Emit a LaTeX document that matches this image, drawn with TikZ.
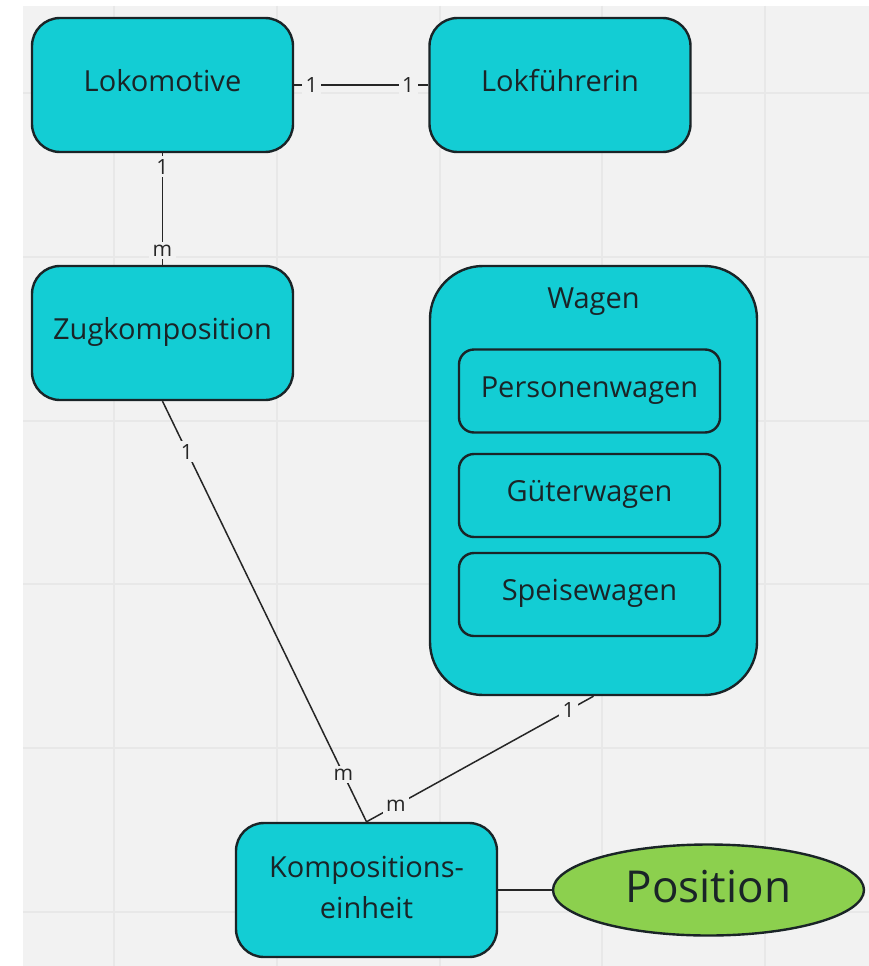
\documentclass[tikz,border=0pt]{standalone}
\usepackage{fontspec}
\setmainfont{Open Sans}
\usetikzlibrary{shapes.geometric}
\definecolor{canvas}{HTML}{F2F2F2}
\definecolor{gridline}{HTML}{E8E8E8}
\definecolor{boxfill}{HTML}{13CDD4}
\definecolor{attrfill}{HTML}{8CD04E}
\definecolor{ink}{HTML}{1A2427}
\definecolor{wire}{HTML}{262626}

\begin{document}
\begin{tikzpicture}[x=1pt,y=-1pt,
  entity/.style={rectangle, rounded corners=28pt, draw=ink, line width=2.4pt,
    fill=boxfill, minimum width=261pt, minimum height=134pt, inner sep=0pt,
    text=ink, font=\fontsize{29}{41}\selectfont, align=center,
    text height=20pt, text depth=8pt},
  subentity/.style={entity, rounded corners=15pt, minimum height=83pt},
  group/.style={entity, rounded corners=53pt, minimum width=327pt, minimum height=429pt},
  attribute/.style={ellipse, draw=ink, line width=2.4pt, fill=attrfill,
    minimum width=311pt, minimum height=91pt, inner sep=0pt, text=ink,
    font=\fontsize{44}{50}\selectfont, text height=32pt, text depth=8pt},
  wireline/.style={draw=wire, line width=1.5pt},
  card/.style={fill=canvas, inner xsep=3.5pt, inner ysep=3pt, text=wire,
    font=\fontsize{21}{24}\selectfont},
  gridstroke/.style={draw=gridline, line width=1.3pt}
]
  % page and canvas
  \useasboundingbox (0,0) rectangle (869,966);
  \fill[white] (0,0) rectangle (869,966);
  \fill[canvas] (23,6) rectangle (869,966);

  % background grid
  \begin{scope}
    \clip (23,6) rectangle (869,966);
    \foreach \gx in {114,277,440,602,765}
      \draw[gridstroke] (\gx,6) -- (\gx,966);
    \foreach \gy in {93,257,421,584,748,912}
      \draw[gridstroke] (23,\gy) -- (869,\gy);
  \end{scope}

  % entities
  \node[entity] (lok)  at (162.5,85)  {Lokomotive};
  \node[entity] (lokf) at (560,85)    {Lokführerin};
  \node[entity] (zug)  at (162.5,333) {Zugkomposition};

  \node[group]  (wagen) at (593.5,480.5) {};
  \node[text=ink, font=\fontsize{29}{41}\selectfont, anchor=base] (wagentitle)
    at (593.5,308) {Wagen};
  \node[subentity] (pw) at (589.5,391)   {Personenwagen};
  \node[subentity] (gw) at (589.5,495.5) {Güterwagen};
  \node[subentity] (sw) at (589.5,594.5) {Speisewagen};

  \node[entity, text height=62pt, text depth=6pt] (ke) at (366.5,890)
    {Kompositions-\\einheit};
  \node[attribute] (pos) at (708.5,890) {Position};

  % relationships with cardinalities
  \draw[wireline] (lok.east) -- (lokf.west)
    node[card, pos=0.13] {1} node[card, pos=0.85] {1};
  \draw[wireline] (lok.south) -- (zug.north)
    node[card, pos=0.12] {1} node[card, pos=0.87] {m};
  \draw[wireline] (zug.south) -- (ke.north)
    node[card, pos=0.12] {1} node[card, pos=0.887] {m};
  \draw[wireline] (wagen.south) -- (ke.north)
    node[card, pos=0.11] {1} node[card, pos=0.87] {m};
  \draw[wireline] (ke.east) -- (pos.west);
\end{tikzpicture}
\end{document}
